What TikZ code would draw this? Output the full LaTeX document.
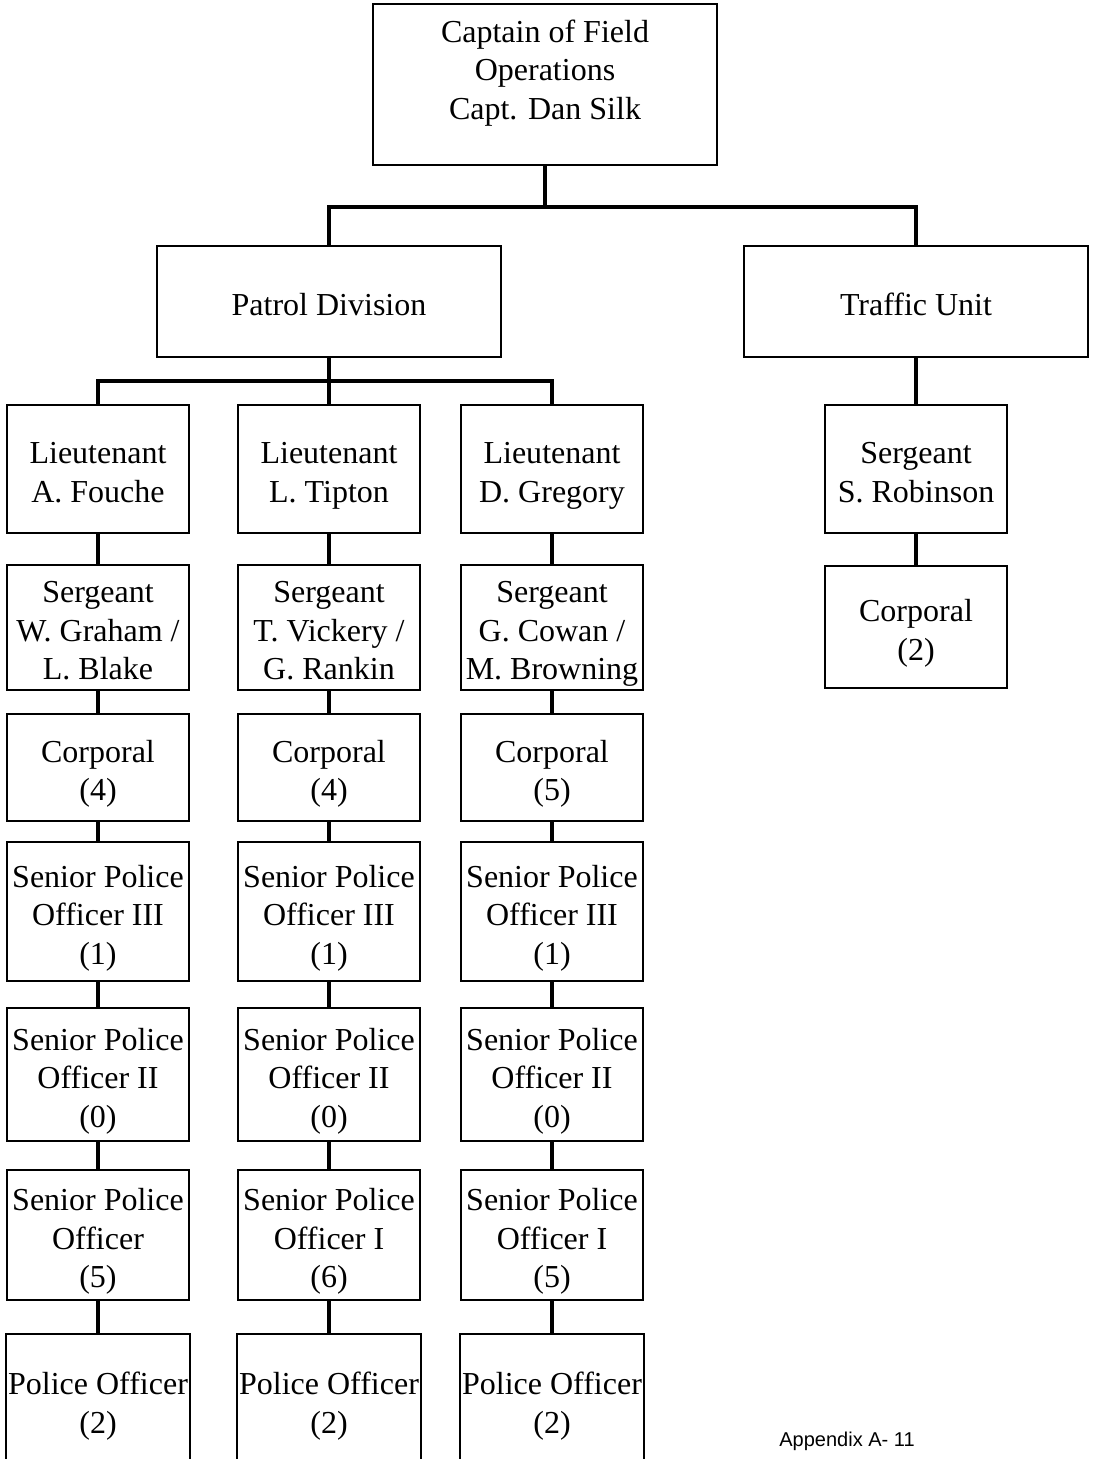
\documentclass[tikz,border=0pt]{standalone}
\usepackage{fontspec}
\setmainfont{Liberation Serif}
\newfontfamily\pagefont{Liberation Sans}
\newcommand{\firststrut}{\rule{0pt}{18pt}}

\begin{document}
\begin{tikzpicture}[
        x=0.5pt, y=-0.5pt,
        box/.style={draw, line width=1pt, minimum width=91pt, inner sep=1pt, align=center,
            font=\fontsize{16}{19.25}\selectfont,
            execute at end node={\rule[-4pt]{0pt}{4pt}}},
        wide/.style={box, minimum width=172pt},
        link/.style={line width=2.4pt},
    ]
    \clip (0,0) rectangle (1094,1459);

    % Captain and the two units
    \node[wide, minimum height=80pt, execute at end node={\rule[-22pt]{0pt}{22pt}}] (captain) at (545,85) {\firststrut Captain of Field\\Operations\\Capt. Dan Silk};
    \node[wide, minimum height=55.5pt] (patrol) at (329,301.5) {\firststrut Patrol Division};
    \node[wide, minimum height=55.5pt] (traffic) at (916,301.5) {\firststrut Traffic Unit};
    \coordinate (topbar) at (545,207);
    \coordinate (pbar) at (329,381);

    % Lieutenants (and the traffic sergeant)
    \foreach \col/\x/\txt in {A/98/{Lieutenant\\A. Fouche}, B/329/{Lieutenant\\L. Tipton}, C/552/{Lieutenant\\D. Gregory}, T/916/{Sergeant\\S. Robinson}}
        \node[box, minimum height=64pt] (\col-1) at (\x,469) {\firststrut\txt};

    % Sergeants (and the traffic corporals)
    \foreach \col/\x/\txt in {A/98/{Sergeant\\W. Graham /\\L. Blake}, B/329/{Sergeant\\T. Vickery /\\G. Rankin}, C/552/{Sergeant\\G. Cowan /\\M. Browning}, T/916/{Corporal\\(2)}}
        \node[box, minimum height=61pt] (\col-2) at (\x,627) {\firststrut\txt};

    % Corporals
    \foreach \col/\x/\n in {A/98/4, B/329/4, C/552/5}
        \node[box, minimum height=53.5pt] (\col-3) at (\x,767.5) {\firststrut Corporal\\(\n)};

    % Senior police officers
    \foreach \col/\x/\n in {A/98/1, B/329/1, C/552/1}
        \node[box, minimum height=69.5pt] (\col-4) at (\x,911.5) {\firststrut Senior Police\\Officer III\\(\n)};
    \foreach \col/\x/\n in {A/98/0, B/329/0, C/552/0}
        \node[box, minimum height=66.5pt] (\col-5) at (\x,1074.5) {\firststrut Senior Police\\Officer II\\(\n)};
    \foreach \col/\x/\txt in {A/98/{Officer\\(5)}, B/329/{Officer I\\(6)}, C/552/{Officer I\\(5)}}
        \node[box, minimum height=65pt] (\col-6) at (\x,1235) {\firststrut Senior Police\\\txt};

    % Police officers
    \foreach \col/\x in {A/98, B/329, C/552}
        \node[box, minimum height=66pt] (\col-7) at (\x,1400) {\firststrut Police Officer\\(2)};

    % Connect the captain with the units, and the units with their heads
    \draw[link] (captain) -- (topbar);
    \draw[link] (patrol.north) |- (topbar) -| (traffic.north);
    \draw[link] (patrol) -- (B-1);
    \draw[link] (A-1.north) |- (pbar) -| (C-1.north);
    \draw[link] (traffic) -- (T-1);

    % Connect each column from top to bottom
    \foreach \col in {A,B,C}
        \foreach \i/\j in {1/2,2/3,3/4,4/5,5/6,6/7}
            \draw[link] (\col-\i) -- (\col-\j);
    \draw[link] (T-1) -- (T-2);

    \node[font=\pagefont\fontsize{10}{12}\selectfont] (page) at (847,1441) {Appendix A- 11};
\end{tikzpicture}
\end{document}
